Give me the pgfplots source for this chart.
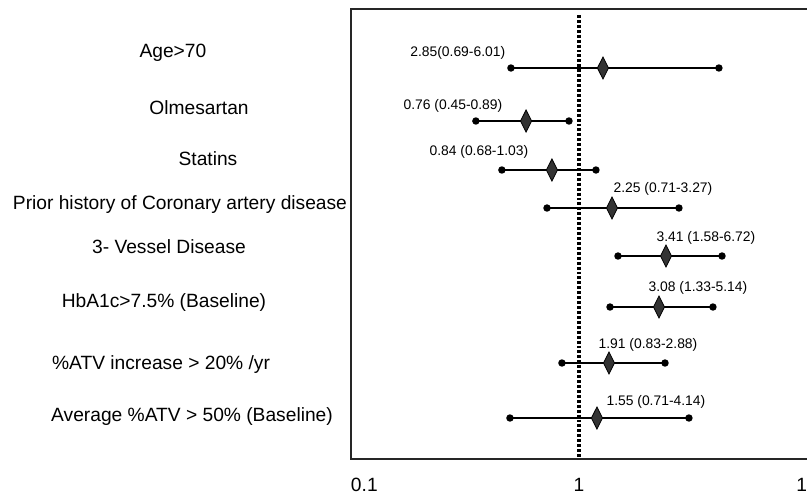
\documentclass[border=0pt]{standalone}
\usepackage{fontspec}
\setmainfont{Liberation Sans}
\usepackage{pgfplots}
\pgfplotsset{compat=1.18}
\usepackage{pgfplotstable}

% hazard ratio rows as drawn: y is the row position (top = 9, bottom = 459)
\pgfplotstableread{
y    lo     mid    hi
68   0.503  1.274  4.11
121  0.353  0.586  0.904
170  0.459  0.761  1.187
208  0.724  1.396  2.745
256  1.483  2.408  4.24
307  1.368  2.244  3.87
363  0.842  1.354  2.384
418  0.498  1.199  3.036
}\estimates

% confidence interval segments
\pgfplotstableread{
x      y
0.503  68
4.11   68
nan    nan
0.353  121
0.904  121
nan    nan
0.459  170
1.187  170
nan    nan
0.724  208
2.745  208
nan    nan
1.483  256
4.24   256
nan    nan
1.368  307
3.87   307
nan    nan
0.842  363
2.384  363
nan    nan
0.498  418
3.036  418
}\intervals

\pgfplotstableread{
x       y    label
0.01656 53   {Age>70}
0.02155 108  {Olmesartan}
0.02359 159  {Statins}
0.01778 205  {Prior history of Coronary artery disease}
0.01591 247  {3- Vessel Disease}
0.01513 303  {HbA1c>7.5\% (Baseline)}
0.01469 365  {\%ATV increase > 20\% /yr}
0.02008 417  {Average \%ATV > 50\% (Baseline)}
}\rowlabels

\pgfplotstableread{
x      y    label
0.294  53   {2.85(0.69-6.01)}
0.280  106  {0.76 (0.45-0.89)}
0.364  152  {0.84 (0.68-1.03)}
2.336  189  {2.25 (0.71-3.27)}
3.606  238  {3.41 (1.58-6.72)}
3.325  288  {3.08 (1.33-5.14)}
2.008  345  {1.91 (0.83-2.88)}
2.175  402  {1.55 (0.71-4.14)}
}\annots

\begin{document}
\begin{tikzpicture}
\begin{axis}[
    scale only axis,
    width=344.25pt, height=337.5pt,
    xmode=log, log basis x=10,
    xmin=0.1, xmax=10.31,
    ymin=9, ymax=459,
    y dir=reverse,
    ytick=\empty,
    xtick={0.1,1,10},
    xticklabels={{\rlap{0.1}},1,10},
    major tick length=0pt,
    xticklabel style={anchor=base, yshift=-24pt, font=\fontsize{14.4}{17}\selectfont},
    axis line style={line width=0.8pt, black!85},
    clip=false,
]
% reference line at HR = 1
\addplot[black, line width=2.6pt, dash pattern=on 2.2pt off 1.5pt]
    coordinates {(1,15) (1,459)};

\addplot[black, line width=1.1pt, unbounded coords=jump, mark=*,
    mark size=2.2pt] table[x=x, y=y] {\intervals};

\addplot[only marks, mark=diamond*, mark size=8.25pt,
    mark options={xscale=0.67, fill=black!80, draw=black, line width=0.6pt}]
    table[x=mid, y=y] {\estimates};

\addplot[draw=none, mark=none, nodes near coords, point meta=explicit symbolic,
    nodes near coords align={center},
    every node near coord/.append style={font=\fontsize{14.4}{17}\selectfont, inner sep=0pt}]
    table[x=x, y=y, meta=label] {\rowlabels};

\addplot[draw=none, mark=none, nodes near coords, point meta=explicit symbolic,
    nodes near coords align={center},
    every node near coord/.append style={font=\fontsize{10.4}{12}\selectfont, inner sep=0pt}]
    table[x=x, y=y, meta=label] {\annots};
\end{axis}
\pgfresetboundingbox
\path[use as bounding box] ([xshift=-263.25pt,yshift=-28.5pt]current axis.south west)
    rectangle ([xshift=-2.25pt,yshift=6.75pt]current axis.north east);
\end{tikzpicture}
\end{document}
